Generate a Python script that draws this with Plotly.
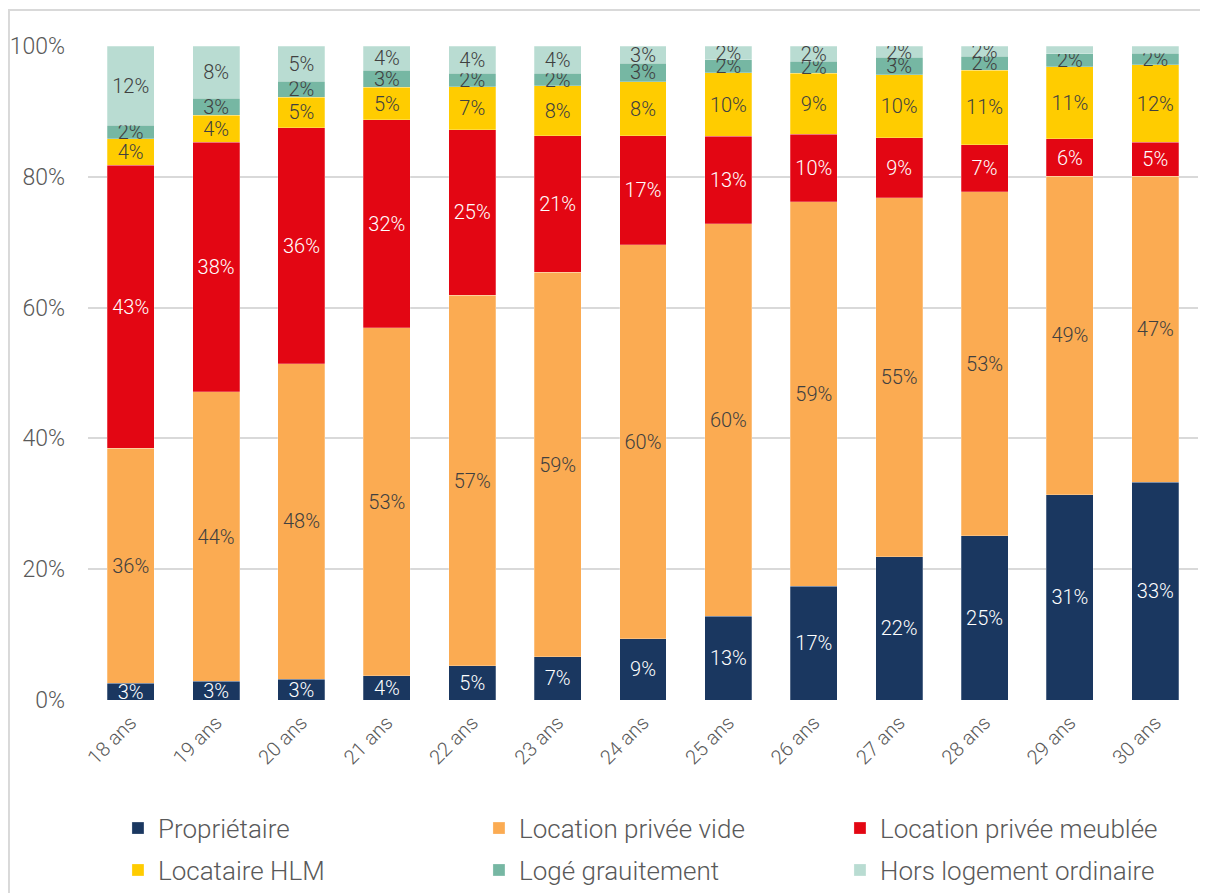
import plotly.graph_objects as go

ages = ["18 ans", "19 ans", "20 ans", "21 ans", "22 ans", "23 ans", "24 ans",
        "25 ans", "26 ans", "27 ans", "28 ans", "29 ans", "30 ans"]

proprietaire = [2.6, 2.9, 3.2, 3.7, 5.2, 6.6, 9.4, 12.8, 17.4, 21.9, 25.1, 31.4, 33.3]
location_vide = [35.9, 44.2, 48.2, 53.2, 56.7, 58.8, 60.2, 60.0, 58.8, 54.9, 52.6, 48.7, 46.8]
location_meublee = [43.3, 38.2, 36.1, 31.8, 25.3, 20.9, 16.7, 13.4, 10.3, 9.2, 7.2, 5.7, 5.2]
locataire_hlm = [4.0, 4.1, 4.7, 5.0, 6.6, 7.6, 8.2, 9.7, 9.3, 9.6, 11.4, 11.0, 11.8]
loge_gratuitement = [2.1, 2.6, 2.4, 2.6, 2.0, 1.9, 2.9, 2.0, 1.9, 2.7, 2.1, 2.0, 1.8]
hors_logement = [12.1, 8.0, 5.4, 3.7, 4.2, 4.2, 2.6, 2.1, 2.3, 1.7, 1.6, 1.2, 1.1]

y_tickvals = [0, 20, 40, 60, 80, 100]
y_ticktext = ["0%", "20%", "40%", "60%", "80%", "100%"]

series = [
    ("Propriétaire", proprietaire, "#1a3760", "white", "legend"),
    ("Location privée vide", location_vide, "#fbab52", "#404040", "legend"),
    ("Location privée meublée", location_meublee, "#e30613", "white", "legend"),
    ("Locataire HLM", locataire_hlm, "#ffcc00", "#404040", "legend2"),
    ("Logé grauitement", loge_gratuitement, "#76b7a3", "#404040", "legend2"),
    ("Hors logement ordinaire", hors_logement, "#b9dcd2", "#404040", "legend2"),
]

FONT = "Roboto"
GREY = "#595959"

fig = go.Figure()
for name, vals, color, tcol, leg in series:
    texts = [f"{round(v)}%" if v >= 1.5 else "" for v in vals]
    fig.add_trace(go.Bar(
        x=ages, y=vals, name=name,
        marker=dict(color=color, line=dict(color="rgba(255,255,255,0.5)", width=0.5)),
        text=texts, textposition="inside", insidetextanchor="middle",
        textangle=0, constraintext="none",
        textfont=dict(color=tcol, size=20, family=FONT, weight=300),
        hoverinfo="skip", legend=leg,
    ))

legend_common = dict(
    orientation="h", xanchor="left", yanchor="middle",
    entrywidth=316, entrywidthmode="pixels",
    font=dict(size=26, color=GREY, family=FONT, weight=300),
    traceorder="normal", bgcolor="rgba(0,0,0,0)",
)

fig.update_layout(
    barmode="stack",
    bargap=0.45,
    width=1200, height=885,
    margin=dict(l=80, r=10, t=38, b=193, autoexpand=False),
    paper_bgcolor="white",
    plot_bgcolor="white",
    font=dict(family=FONT, color=GREY, weight=300),
    xaxis=dict(
        tickangle=-45, tickfont=dict(size=20, color=GREY, family=FONT, weight=300),
        showline=False, showgrid=False, ticks="", ticklabelstandoff=6,
    ),
    yaxis=dict(
        range=[0, 100], tickvals=y_tickvals, ticktext=y_ticktext,
        tickfont=dict(size=23, color=GREY, family=FONT, weight=300),
        showgrid=True, gridcolor="#d9d9d9", gridwidth=1.5, zeroline=False,
        showline=False, ticks="", ticklabelstandoff=22,
    ),
    legend=dict(x=0.027, y=-0.196, **legend_common),
    legend2=dict(x=0.027, y=-0.26, **legend_common),
    shapes=[dict(
        type="rect", xref="paper", yref="paper",
        x0=-0.0712, x1=1.3, y0=-0.5, y1=1.055,
        line=dict(color="#d9d9d9", width=2), fillcolor="rgba(0,0,0,0)", layer="below",
    )],
)

fig.write_html("out.html")
